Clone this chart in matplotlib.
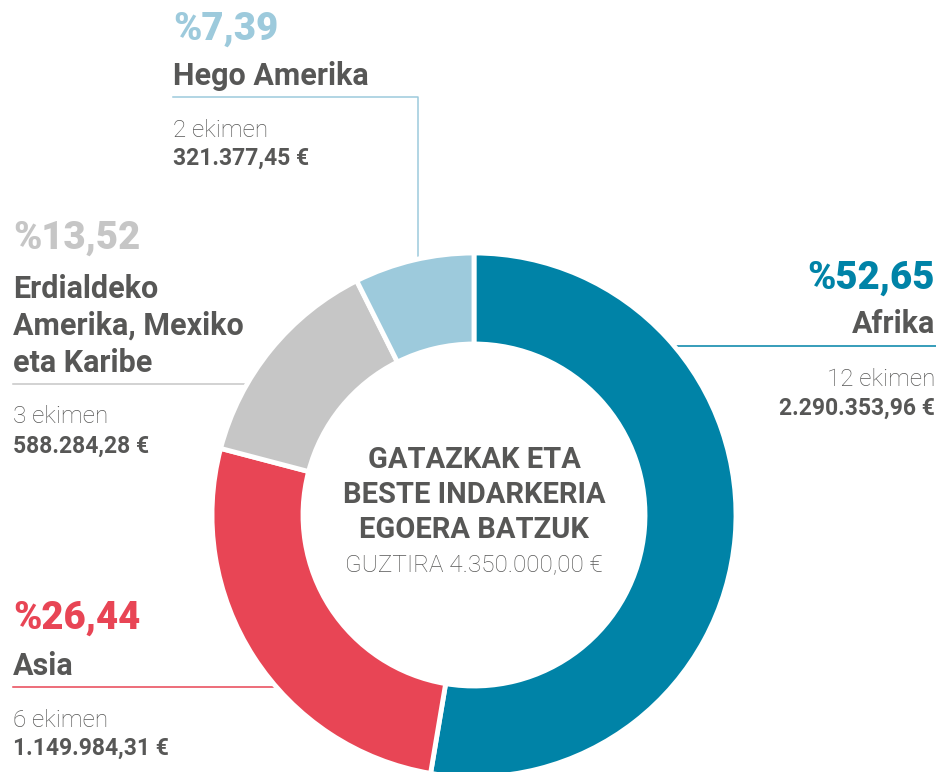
import matplotlib
matplotlib.use("Agg")
import matplotlib.pyplot as plt

plt.rcParams['font.family'] = ['Roboto', 'DejaVu Sans']

regions = ['Afrika', 'Asia', 'Erdialdeko\nAmerika, Mexiko\neta Karibe', 'Hego Amerika']
shares = [52.65, 26.44, 13.52, 7.39]
share_labels = ['%52,65', '%26,44', '%13,52', '%7,39']
projects = ['12 ekimen', '6 ekimen', '3 ekimen', '2 ekimen']
amounts = ['2.290.353,96 €', '1.149.984,31 €', '588.284,28 €', '321.377,45 €']
colors = ['#0083a7', '#e84555', '#c6c6c6', '#9dcadc']
center_title = 'GATAZKAK ETA\nBESTE INDARKERIA\nEGOERA BATZUK'
center_total = 'GUZTIRA 4.350.000,00 €'

TEXT = '#575756'
W, H = 937, 772
CX, CY, R, RIN = 474, 515, 262, 171

fig = plt.figure(figsize=(W / 100, H / 100), dpi=100)
ax = fig.add_axes([0, 0, 1, 1])

# y axis inverted so everything is in pixel coords; start at top, go clockwise
ax.pie(shares, colors=colors, startangle=-90, counterclock=True,
       center=(CX, CY), radius=R,
       wedgeprops=dict(width=R - RIN, edgecolor='white', linewidth=3.5),
       normalize=True)
ax.set_xlim(0, W)
ax.set_ylim(H, 0)
ax.set_aspect('equal')
ax.axis('off')

# label blocks: x, ha, baselines of pct, name (last line), rule y, count, amount
blocks = [
    (935, 'right', 289, 333, 346, 386, 415),
    (13, 'left', 629, 675, 687, 727, 755),
    (13, 'left', 249, 372, 384, 423, 453),
    (173, 'left', 40, 85, 97, 137, 165),
]

for i, (x, ha, yp, yn, yr, yc, ya) in enumerate(blocks):
    ax.text(x, yp, share_labels[i], color=colors[i], fontsize=27.5,
            fontweight='black', ha=ha, va='baseline')
    ax.text(x, yn, regions[i], color=TEXT, fontsize=22, fontweight='bold',
            ha=ha, va='baseline', linespacing=1.3)
    ax.text(x, yc, projects[i], color=TEXT, fontsize=17.5, fontweight='light',
            ha=ha, va='baseline')
    ax.text(x, ya, amounts[i], color=TEXT, fontsize=16.5, fontweight='bold',
            ha=ha, va='baseline')

# leader rules (pie covers their inner ends)
ax.plot([CX + 150, 937], [346, 346], color=colors[0], lw=1.1, zorder=0)
ax.plot([13, CX - 150], [687, 687], color=colors[1], lw=1.1, zorder=0)
ax.plot([13, CX - 150], [384, 384], color=colors[2], lw=1.1, zorder=0)
ax.plot([173, 418, 418], [97, 97, 300], color=colors[3], lw=1.1, zorder=0)

ax.text(CX, 538, center_title, color=TEXT, fontsize=21, fontweight='bold',
        ha='center', va='baseline', linespacing=1.32, multialignment='center')
ax.text(CX, 571, center_total, color=TEXT, fontsize=17.5, fontweight='light',
        ha='center', va='baseline')

fig.savefig('out.png', dpi=100)
